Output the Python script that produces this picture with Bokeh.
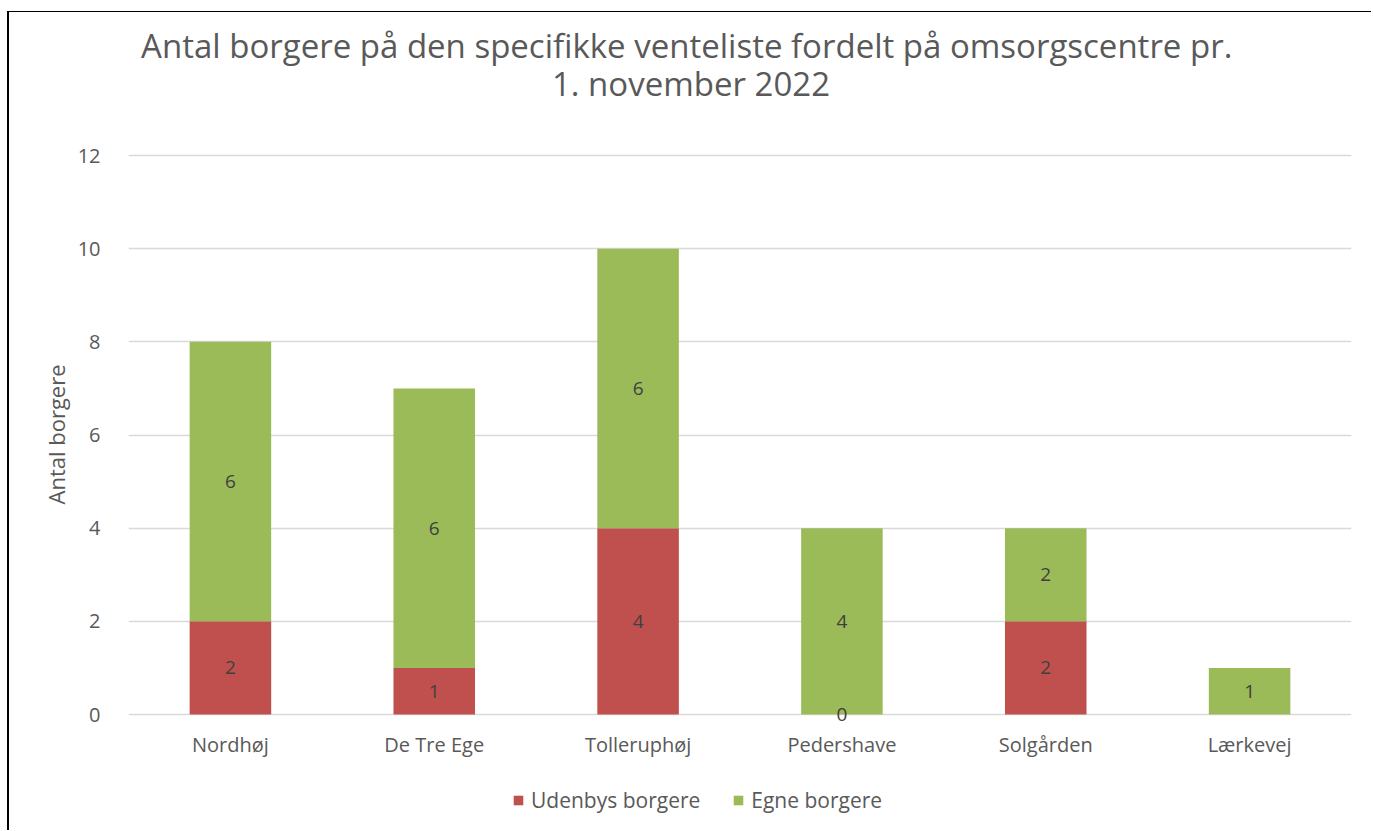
from bokeh.plotting import figure
from bokeh.models import (ColumnDataSource, Legend, LegendItem, Range1d, FactorRange,
                          FixedTicker, Title, Label)
from bokeh.embed import file_html
from bokeh.resources import INLINE
from bokeh.core.properties import value

centre = ["Nordhøj", "De Tre Ege", "Tolleruphøj", "Pedershave", "Solgården", "Lærkevej"]
udenbys = [2, 1, 4, 0, 2, None]
egne = [6, 6, 6, 4, 2, 1]
series_names = ["Udenbys borgere", "Egne borgere"]
colors = ["#C0504D", "#9BBB59"]
y_ticks = [0, 2, 4, 6, 8, 10, 12]
title_lines = ["Antal borgere på  den specifikke venteliste fordelt på omsorgscentre pr.", "1. november 2022"]
y_label = "Antal borgere"

ud = [v if v is not None else 0 for v in udenbys]
src = ColumnDataSource(dict(
    c=centre, u=ud, e=egne,
    e_mid=[a + b / 2 for a, b in zip(ud, egne)],
    e_lab=[str(v) for v in egne],
))
lab_src = ColumnDataSource(dict(
    c=[c for c, v in zip(centre, udenbys) if v is not None],
    y=[v / 2 for v in udenbys if v is not None],
    t=[str(v) for v in udenbys if v is not None],
))

# layout (pixels): canvas 1364x819; value axis from 0 (y=702) to 12 (y=143)
W, H = 1364, 819
AX_TOP, AX_BOT = 143, 702
ppu = (AX_BOT - AX_TOP) / (max(y_ticks) - min(y_ticks))
y_lo = -(H - AX_BOT) / ppu
y_hi = max(y_ticks) + AX_TOP / ppu

FONT = "Open Sans"
GREY = "#595959"
p = figure(x_range=FactorRange(*centre, range_padding=0), y_range=Range1d(y_lo, y_hi),
           width=W, height=H, output_backend="svg", toolbar_location=None,
           min_border_left=119, min_border_right=22, min_border_top=0, min_border_bottom=0)
p.title.text = ""
p.styles = {"border-left": "2px solid black", "border-top": "1px solid black",
            "margin-left": "7px", "margin-top": "11px"}

r = p.vbar_stack(["u", "e"], x="c", width=0.4, color=colors, source=src, line_color=None)

p.text(x="c", y="y", text="t", source=lab_src, text_align="center", text_baseline="middle",
       text_font=value(FONT), text_font_size="19px", text_color="#404040")
p.text(x="c", y="e_mid", text="e_lab", source=src, text_align="center", text_baseline="middle",
       text_font=value(FONT), text_font_size="19px", text_color="#404040")

# titles inside the (tall) frame
for line, off in zip(title_lines, [110, 72]):
    p.add_layout(Label(x=len(centre) / 2, y=max(y_ticks), x_offset=-49, y_offset=off, text=line,
                       text_align="center", text_baseline="middle", text_font=FONT,
                       text_font_size="33px", text_color=GREY))

tk = FixedTicker(ticks=y_ticks)
p.yaxis.ticker = tk
p.ygrid.ticker = tk
p.xaxis.fixed_location = 0
for ax in (p.xaxis, p.yaxis):
    ax.axis_line_color = None
    ax.major_tick_line_color = None
    ax.minor_tick_line_color = None
    ax.major_label_text_font = FONT
    ax.major_label_text_font_size = "20px"
    ax.major_label_text_color = GREY
p.yaxis.major_label_standoff = 22
p.xaxis.major_label_standoff = 10
p.xgrid.grid_line_color = None
p.ygrid.grid_line_color = "#D9D9D9"
p.ygrid.grid_line_width = 1.5
p.outline_line_color = None

ylab = Title(text=y_label, align="left", offset=327, standoff=7, text_font=FONT,
             text_font_size="22px", text_font_style="normal", text_color=GREY)
p.add_layout(ylab, "left")

legend = Legend(items=[LegendItem(label=series_names[0], renderers=[r[0]]),
                       LegendItem(label=series_names[1], renderers=[r[1]])],
                orientation="horizontal", location=(384, 17),
                label_text_font=FONT, label_text_font_size="21px", label_text_color=GREY,
                glyph_width=12, glyph_height=12, spacing=32, border_line_color=None,
                background_fill_alpha=0, margin=0, padding=4, label_standoff=7)
p.add_layout(legend, "center")

open("out.html", "w").write(file_html(p, INLINE))
